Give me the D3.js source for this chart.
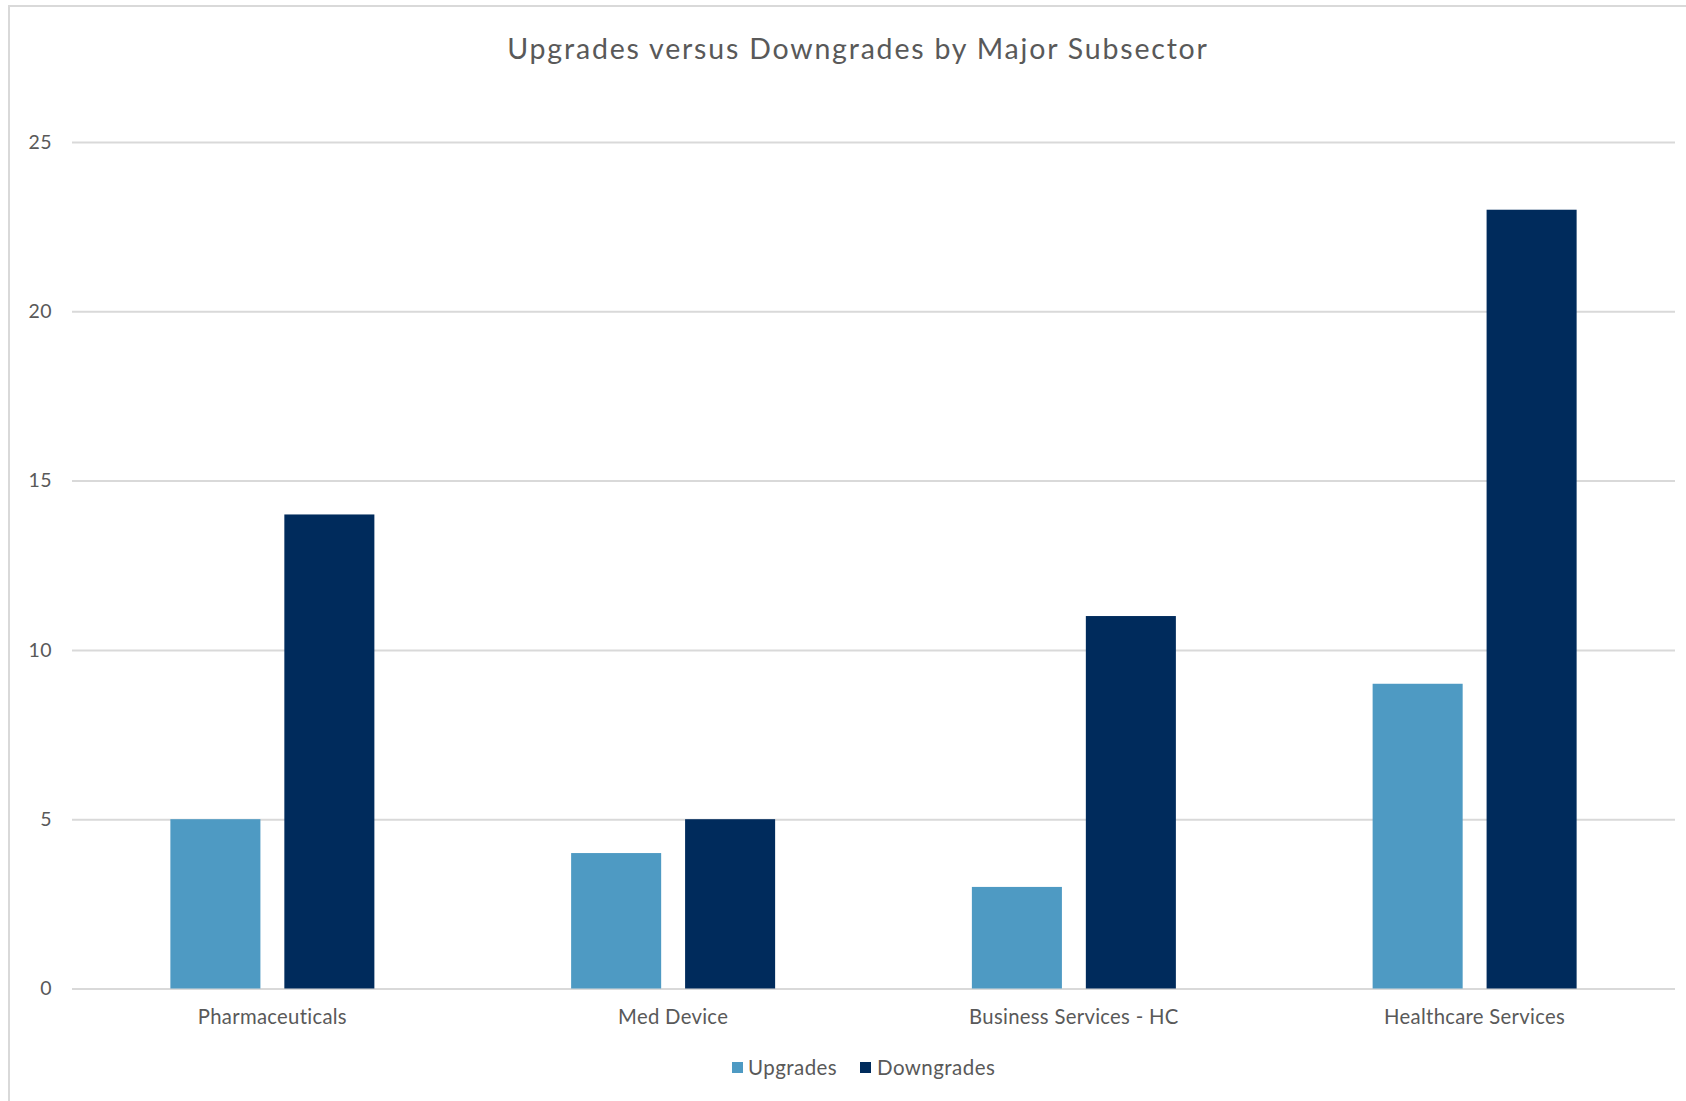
<!DOCTYPE html>
<html>
<head>
<meta charset="utf-8">
<script src="https://cdn.jsdelivr.net/npm/d3@7"></script>
<style>
  html, body { margin: 0; padding: 0; background: #ffffff; }
  svg { display: block; font-family: Lato, "Open Sans", sans-serif; }
</style>
</head>
<body>
<svg id="chart" width="1686" height="1101"></svg>
<script>
// Rating actions per major subsector
const categories = ["Pharmaceuticals", "Med Device", "Business Services - HC", "Healthcare Services"];
const seriesNames = ["Upgrades", "Downgrades"];
const upgrades = [5, 4, 3, 9];
const downgrades = [14, 5, 11, 23];
const yTicks = [0, 5, 10, 15, 20, 25];
const colors = ["#4e9ac3", "#002b5c"];

const values = [upgrades, downgrades];

const svg = d3.select("#chart");
const W = 1686, H = 1101;
const plot = { left: 72, right: 1675, top: 142, bottom: 988.5 };
const textColor = "#595959";
const gridColor = "#d9d9d9";

svg.append("rect").attr("width", W).attr("height", H).attr("fill", "#ffffff");

// chart frame (runs off the right and bottom edges)
svg.append("rect")
  .attr("x", 9).attr("y", 6)
  .attr("width", W + 40).attr("height", H + 40)
  .attr("fill", "none")
  .attr("stroke", gridColor)
  .attr("stroke-width", 2);

const x0 = d3.scaleBand().domain(categories).range([plot.left, plot.right]);
const groupHalf = 102;
const x1 = d3.scaleBand().domain(seriesNames).range([-groupHalf, groupHalf]).paddingInner(0.21);
const y = d3.scaleLinear().domain([0, 25]).range([plot.bottom, plot.top]);

// horizontal gridlines + value labels
const yAxis = svg.append("g")
  .attr("transform", `translate(${plot.left},0)`)
  .call(d3.axisLeft(y).tickValues(yTicks).tickSize(-(plot.right - plot.left)).tickPadding(20));
yAxis.select(".domain").remove();
yAxis.selectAll(".tick line").attr("stroke", gridColor).attr("stroke-width", 2);
yAxis.selectAll(".tick text")
  .attr("fill", textColor)
  .style("font-size", "19.5px")
  .style("font-family", "Lato, sans-serif")
  .style("letter-spacing", "0.5px");

// bars
const groups = svg.append("g").selectAll("g")
  .data(categories)
  .join("g")
  .attr("transform", d => `translate(${x0(d) + x0.bandwidth() / 2},0)`);

groups.selectAll("rect")
  .data((d, i) => seriesNames.map((s, j) => ({ s, j, v: values[j][i] })))
  .join("rect")
  .attr("x", d => x1(d.s))
  .attr("width", x1.bandwidth())
  .attr("y", d => y(d.v))
  .attr("height", d => y(0) - y(d.v))
  .attr("fill", d => colors[d.j]);

// category labels
const xAxis = svg.append("g")
  .attr("transform", `translate(0,${plot.bottom})`)
  .call(d3.axisBottom(x0).tickSize(0));
xAxis.select(".domain").remove();
xAxis.selectAll(".tick text")
  .attr("y", 35.5)
  .attr("dy", 0)
  .attr("fill", textColor)
  .style("font-size", "20.3px")
  .style("font-family", "Lato, sans-serif")
  .style("letter-spacing", "0.3px");

// title
svg.append("text")
  .attr("x", 858).attr("y", 58.5)
  .attr("text-anchor", "middle")
  .attr("fill", textColor)
  .style("font-size", "28.5px")
  .style("letter-spacing", "1.8px")
  .text("Upgrades versus Downgrades by Major Subsector");

// legend
const legendItems = [
  { name: seriesNames[0], color: colors[0], sx: 732, tx: 748 },
  { name: seriesNames[1], color: colors[1], sx: 860, tx: 877 }
];
const legend = svg.append("g");
legend.selectAll("rect")
  .data(legendItems)
  .join("rect")
  .attr("x", d => d.sx).attr("y", 1062)
  .attr("width", 11).attr("height", 11)
  .attr("fill", d => d.color);
legend.selectAll("text")
  .data(legendItems)
  .join("text")
  .attr("x", d => d.tx).attr("y", 1074.5)
  .attr("fill", textColor)
  .style("font-size", "20.5px")
  .style("letter-spacing", "0.45px")
  .text(d => d.name);
</script>
</body>
</html>
